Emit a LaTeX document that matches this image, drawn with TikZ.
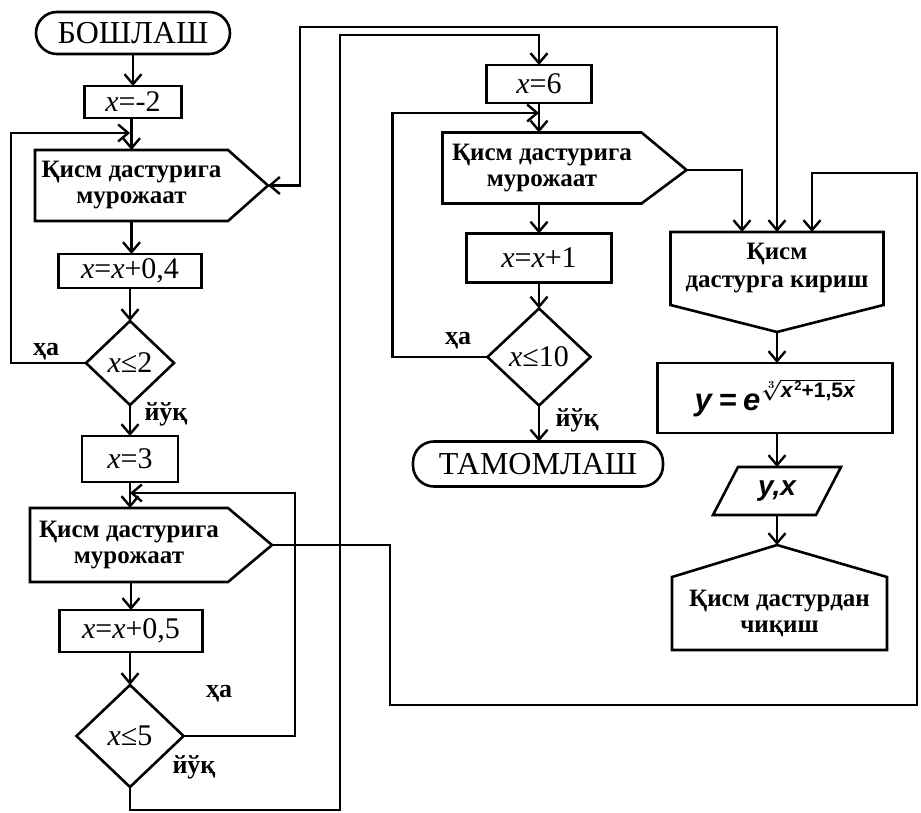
\documentclass[tikz,border=0pt]{standalone}
\usepackage{fontspec}
\setmainfont{Liberation Serif}
\newfontfamily\fsans{Liberation Sans}
\usetikzlibrary{arrows.meta,shapes.geometric,calc}
\newsavebox\formulabox
\begin{document}
\sbox\formulabox{\fsans\bfseries\fontsize{31}{33}\selectfont\textit{y}\kern6pt=\kern6pt\textit{e}\kern1pt\raisebox{13pt}{\fontsize{21}{23}\selectfont\mathversion{bold}$\sqrt[3]{\hbox{\textit{x}\kern1pt\raisebox{7pt}{\fontsize{13}{14}\selectfont 2}+1,5\textit{x}}}$}}%
\begin{tikzpicture}[x=1pt,y=-1pt,
  every node/.style={inner sep=0pt,outer sep=0pt},
  lw/.style={line width=2.6pt},
  proc/.style={rectangle,draw,lw},
  term/.style={rectangle,draw,lw,rounded corners=21pt},
  cond/.style={diamond,draw,lw},
  free/.style={rectangle,align=center},
  shp/.style={lw,line join=miter},
  arr/.style={line width=2.4pt,-{Straight Barb[length=10pt,width=17pt,line width=2.4pt]}},
  arrb/.style={line width=2.4pt,{Straight Barb[length=10pt,width=17pt,line width=2.4pt]}-{Straight Barb[length=10pt,width=17pt,line width=2.4pt]}},
  big/.style={font=\fontsize{32}{34}\selectfont},
  mid/.style={font=\fontsize{30}{32}\selectfont},
  cyr/.style={font=\fontsize{25}{26}\selectfont\bfseries},
  lab/.style={font=\fontsize{26}{28}\selectfont\bfseries}
]
\useasboundingbox (0,0) rectangle (921,813);

% ---------- left column ----------
\node[term,big,minimum width=194pt,minimum height=42pt] (start) at (133,33) {БОШЛАШ};
\node[proc,mid,minimum width=97pt,minimum height=32pt] (x2) at (133,102) {\textit{x}=-2};
\node[free,cyr,minimum width=193pt,minimum height=71pt] (c1) at (131.5,185.5) {Қисм дастурига\\мурожаат};
\coordinate (c1t) at ($(c1.east)+(40,0)$);
\draw[shp] (c1.north west) -- (c1.north east) -- (c1t) -- (c1.south east) -- (c1.south west) -- cycle;
\node[proc,mid,minimum width=143pt,minimum height=34pt] (x04) at (130,271) {\textit{x}=\textit{x}+0,4};
\node[cond,mid,minimum width=88pt,minimum height=84pt] (d1) at (130,363) {\textit{x}≤2};
\node[proc,mid,minimum width=96pt,minimum height=46pt] (x3) at (130,459) {\textit{x}=3};
\node[free,cyr,minimum width=198pt,minimum height=74pt] (c2) at (129,545) {Қисм дастурига\\мурожаат};
\coordinate (c2t) at ($(c2.east)+(44,0)$);
\draw[shp] (c2.north west) -- (c2.north east) -- (c2t) -- (c2.south east) -- (c2.south west) -- cycle;
\node[proc,mid,minimum width=143pt,minimum height=42pt] (x05) at (131,631) {\textit{x}=\textit{x}+0,5};
\node[cond,mid,minimum width=107pt,minimum height=102pt] (d2) at (130,736) {\textit{x}≤5};

\node[lab] (ha1) at (46,352) {ҳа};
\node[lab] (yk1) at (166,414) {йўқ};
\node[lab] (ha2) at (219,694) {ҳа};
\node[lab] (yk2) at (194,767) {йўқ};

% ---------- middle column ----------
\node[proc,mid,minimum width=105pt,minimum height=38pt] (x6) at (539,84) {\textit{x}=6};
\node[free,cyr,minimum width=199pt,minimum height=71pt] (c3) at (542,168) {Қисм дастурига\\мурожаат};
\coordinate (c3t) at ($(c3.east)+(45,2)$);
\draw[shp] (c3.north west) -- (c3.north east) -- (c3t) -- (c3.south east) -- (c3.south west) -- cycle;
\node[proc,mid,minimum width=145pt,minimum height=49pt] (x1) at (539,258) {\textit{x}=\textit{x}+1};
\node[cond,mid,minimum width=103pt,minimum height=97pt] (d3) at (539,357) {\textit{x}≤10};
\node[term,big,minimum width=250pt,minimum height=45pt] (end) at (538,464) {ТАМОМЛАШ};
\node[lab] (ha3) at (458,341) {ҳа};
\node[lab] (yk3) at (577,420) {йўқ};

% ---------- right column ----------
\node[free,cyr,minimum width=213pt,minimum height=73pt,font=\fontsize{25}{28}\selectfont\bfseries] (ent) at (777,268.5) {Қисм\\дастурга кириш};
\coordinate (entt) at (777,332);
\draw[shp] (ent.north west) -- (ent.north east) -- (ent.south east) -- (entt) -- (ent.south west) -- cycle;
\coordinate (ein1) at ($(ent.north)+(-35,0)$);
\coordinate (ein2) at (ent.north);
\coordinate (ein3) at ($(ent.north)+(35,0)$);
\node[proc,minimum width=235pt,minimum height=70pt] (frm) at (775,398) {\usebox\formulabox};
\node[free,minimum width=103pt,minimum height=48pt,font=\fsans\bfseries\itshape\fontsize{28}{30}\selectfont] (pio) at (777,491) {y,x};
\draw[shp] ($(pio.north west)+(12.5,0)$) -- ($(pio.north east)+(12.5,0)$) -- ($(pio.south east)+(-12.5,0)$) -- ($(pio.south west)+(-12.5,0)$) -- cycle;
\node[free,cyr,minimum width=215pt,minimum height=73pt] (xe) at (779.5,613.5) {Қисм дастурдан\\чиқиш};
\coordinate (xt) at (777,545);
\draw[shp] (xe.south west) -- (xe.north west) -- (xt) -- (xe.north east) -- (xe.south east) -- cycle;

% ---------- connectors ----------
\coordinate (j1) at (130,133);
\coordinate (j2) at (130,493);
\coordinate (j3) at (539,113);
\coordinate (b1) at (340,810);
\coordinate (b2) at (340,35);
\coordinate (t1) at (300,27);
\coordinate (r1) at (390,705);
\coordinate (r2) at (917,173);

\draw[arr] (start.south -| x2.north) -- (x2.north);
\draw[arr] (x2.south -| c1.north) -- (c1.north);
\draw[arr] (d1.west) -- ++(-75,0) |- (j1);
\draw[arr] (c1.south) -- (c1.south |- x04.north);
\draw[arr] (x04.south) -- (d1.north);
\draw[arr] (d1.south) -- (x3.north);
\draw[arr] (x3.south) -- (x3.south |- c2.north);
\draw[arr] (d2.east) -- ++(111.5,0) |- (j2);
\draw[arr] (c2.south -| x05.north) -- (x05.north);
\draw[arr] (x05.south -| d2.north) -- (d2.north);
\draw[arr] (d2.south) |- (b1) -- (b2) -| (x6.north);

\draw[arr] (x6.south) -- (x6.south |- c3.north);
\draw[arr] (c3.south -| x1.north) -- (x1.north);
\draw[arr] (x1.south) -- (d3.north);
\draw[arr] (d3.west) -- ++(-95,0) |- (j3);
\draw[arr] (d3.south) -- (d3.south |- end.north);

\draw[arrb] (c1t) -| (t1) -| (ein2);
\draw[arr] (c3t) -| (ein1);
\draw[arr] (c2t) -| (r1) -| (r2) -| (ein3);

\draw[arr] (entt) -- (entt |- frm.north);
\draw[arr] (frm.south -| pio.north) -- (pio.north);
\draw[arr] (pio.south) -- (xt);
\end{tikzpicture}
\end{document}
